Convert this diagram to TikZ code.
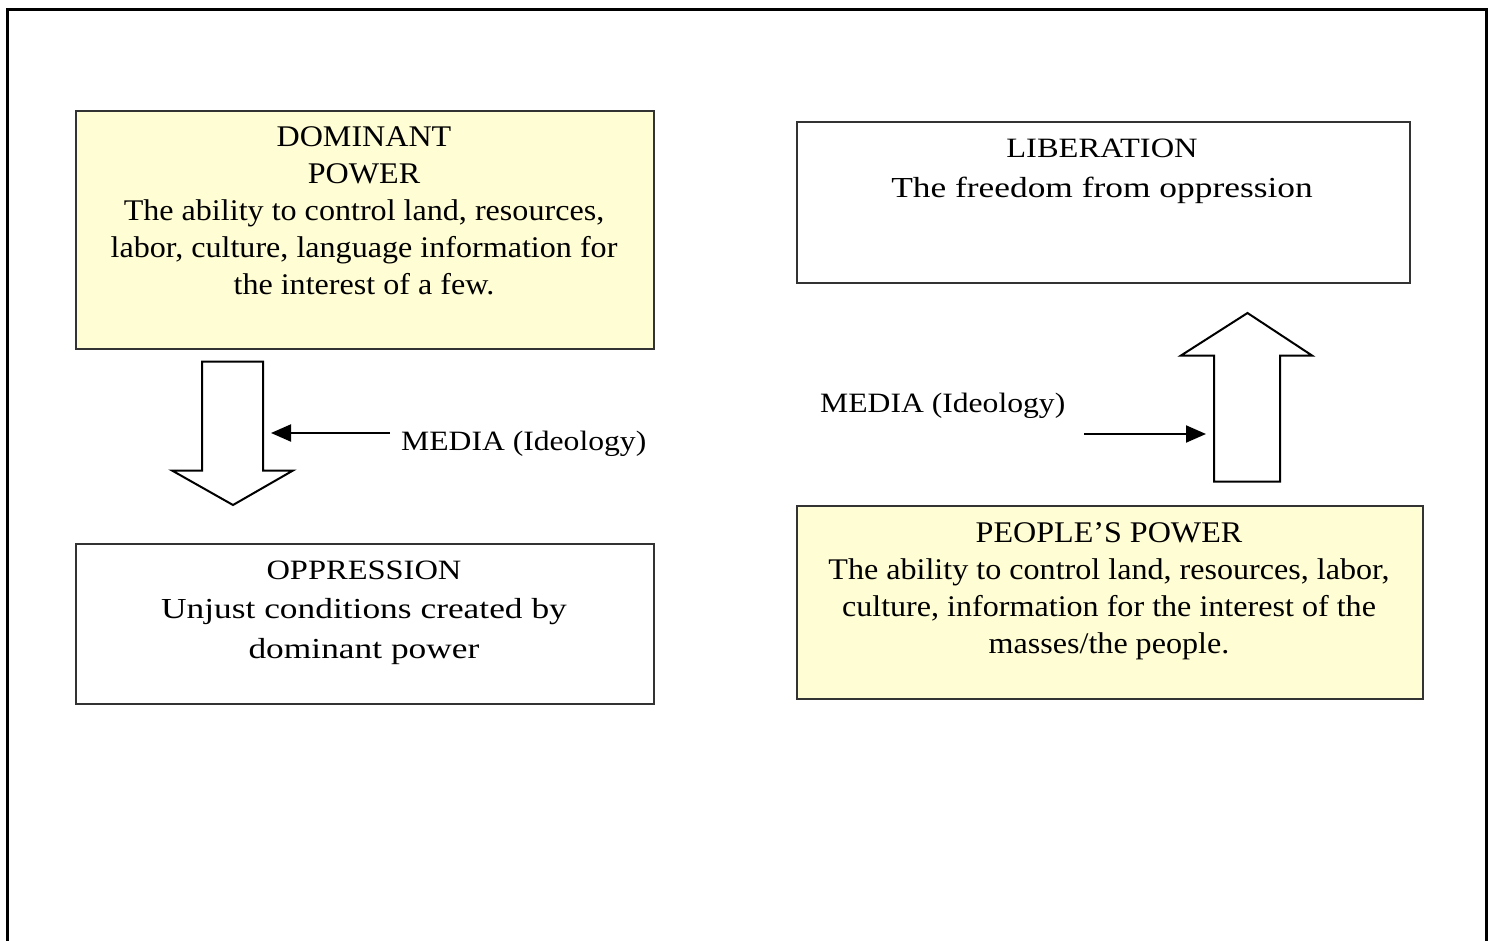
\documentclass[tikz,border=0pt]{standalone}
\usepackage{fontspec}
\setmainfont{Liberation Serif}
\newfontfamily\timesA[FakeStretch=1.07]{Liberation Serif}
\newfontfamily\titleB[FakeStretch=1.16]{Liberation Serif}
\newfontfamily\bodyB[FakeStretch=1.22]{Liberation Serif}
\newfontfamily\mediaF[FakeStretch=1.13]{Liberation Serif}
\usetikzlibrary{arrows.meta}
\definecolor{paleyellow}{HTML}{FFFDD4}
\definecolor{boxline}{HTML}{333333}
\begin{document}
\begin{tikzpicture}[x=1pt,y=-1pt,
  boxstyle/.style={draw=boxline,line width=2pt,rectangle,inner sep=0pt,anchor=north west},
  txt/.style={align=center,font=\timesA\fontsize{30}{37}\selectfont,inner sep=0pt},
  txtB/.style={align=center,font=\fontsize{28}{39.5}\selectfont,inner sep=0pt},
  blockarrow/.style={draw=black,line width=2pt,fill=white,line join=miter},
  media/.style={line width=2pt,-{Triangle[length=20pt,width=17pt]}}]
\useasboundingbox (0,0) rectangle (1494,941);
\fill[white] (0,0) rectangle (1494,941);
% outer frame (bottom edge lies beyond the picture)
\draw[line width=3pt] (7.5,960) -- (7.5,9.5) -- (1486,9.5) -- (1486,960);
% boxes
\node[boxstyle,fill=paleyellow,minimum width=578pt,minimum height=238pt] (dom) at (75,110) {};
\node[boxstyle,fill=white,minimum width=578pt,minimum height=160pt] (opp) at (75,543) {};
\node[boxstyle,fill=white,minimum width=613pt,minimum height=161pt] (lib) at (796,121) {};
\node[boxstyle,fill=paleyellow,minimum width=626pt,minimum height=193pt] (ppl) at (796,505) {};
% texts
\node[txt] (domt) at (364,211) {DOMINANT\\POWER\\The ability to control land, resources,\\labor, culture, language information for\\the interest of a few.};
\node[txtB] (oppt) at (364,612.5) {\titleB OPPRESSION\\\bodyB\fontsize{29}{39.5}\selectfont Unjust conditions created by\\\bodyB\fontsize{29}{39.5}\selectfont dominant power};
\node[txtB] (libt) at (1102,171.5) {\titleB LIBERATION\\\bodyB\fontsize{29}{40.5}\selectfont The freedom from oppression};
\node[txt] (pplt) at (1109,591) {PEOPLE’S POWER\\The ability to control land, resources, labor,\\culture, information for the interest of the\\masses/the people.};
% block arrows
\draw[blockarrow] (202,361.5) -- (263,361.5) -- (263,470.5) -- (293,470.5) -- (233,505)
  -- (172,470.5) -- (202,470.5) -- cycle;
\draw[blockarrow] (1214,481.5) -- (1214,355.5) -- (1181,355.5) -- (1247.5,313)
  -- (1312,355.5) -- (1280,355.5) -- (1280,481.5) -- cycle;
\coordinate (downin) at (271,433);
\coordinate (upin) at (1206,434);
% media labels and arrows
\node[txtB,anchor=west,font=\mediaF\fontsize{28}{34}\selectfont] (m1) at (401,444) {MEDIA (Ideology)};
\node[txtB,anchor=west,font=\mediaF\fontsize{28}{34}\selectfont] (m2) at (820,406) {MEDIA (Ideology)};
\coordinate (m1s) at (390,433);
\coordinate (m2s) at (1084,434);
\draw[media] (m1s) -- (downin);
\draw[media] (m2s) -- (upin);
\end{tikzpicture}
\end{document}
